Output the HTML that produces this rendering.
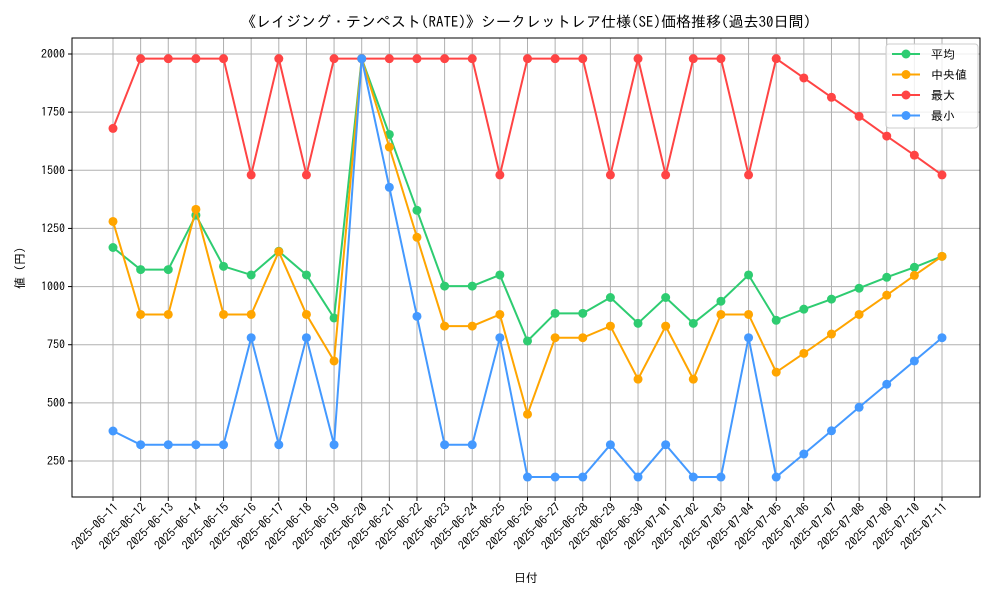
<!DOCTYPE html>
<html><head><meta charset="utf-8"><style>
body{margin:0;background:#fff;font-family:"IPAGothic","Noto Sans CJK JP",sans-serif}
svg text{font-family:"IPAGothic","Noto Sans CJK JP",sans-serif;fill:#000}
</style></head><body>
<svg id="chart" width="1000" height="600" xmlns="http://www.w3.org/2000/svg">
<rect width="1000" height="600" fill="#fff"/>
<text x="526" y="27" font-size="15" text-anchor="middle">《レイジング・テンペスト(RATE)》シークレットレア仕様(SE)価格推移(過去30日間)</text>
<g id="grid"></g><g id="axes"></g><g id="series"></g>
<rect x="72" y="38" width="908" height="459" fill="none" stroke="#000" stroke-width="1"/>
<text x="526" y="582" font-size="12" text-anchor="middle">日付</text>
<text x="24" y="268" font-size="12" text-anchor="middle" transform="rotate(-90 24 268)">値 (円)</text>
<g id="legend"></g>
</svg>
<script>
const categories=["2025-06-11","2025-06-12","2025-06-13","2025-06-14","2025-06-15","2025-06-16","2025-06-17","2025-06-18","2025-06-19","2025-06-20","2025-06-21","2025-06-22","2025-06-23","2025-06-24","2025-06-25","2025-06-26","2025-06-27","2025-06-28","2025-06-29","2025-06-30","2025-07-01","2025-07-02","2025-07-03","2025-07-04","2025-07-05","2025-07-06","2025-07-07","2025-07-08","2025-07-09","2025-07-10","2025-07-11"];
const meanVals=[1168,1073,1073,1307,1087,1050,1152,1050,865,1980,1654,1328,1002,1002,1050,766,885,885,953,842,953,842,937,1050,855,903,946,993,1040,1083,1130];
const medianVals=[1280,880,880,1332,880,880,1150,880,680,1980,1600,1212,830,830,880,451,780,780,830,602,830,602,880,880,632,713,796,880,963,1048,1130];
const maxVals=[1680,1980,1980,1980,1980,1480,1980,1480,1980,1980,1980,1980,1980,1980,1480,1980,1980,1980,1480,1980,1480,1980,1980,1480,1980,1897,1814,1732,1647,1565,1480];
const minVals=[379,320,320,320,320,780,320,780,320,1980,1427,872,320,320,780,181,181,181,320,181,320,181,181,780,181,280,380,481,580,680,780];
const yTicks=[250,500,750,1000,1250,1500,1750,2000];
const seriesNames=["平均","中央値","最大","最小"];
const NS="http://www.w3.org/2000/svg";
const x=i=>113+i*(942-113)/(categories.length-1);
const y=v=>461-(v-250)*(407/1750);
function mk(t,a,p){const e=document.createElementNS(NS,t);for(const k in a)e.setAttribute(k,a[k]);p.appendChild(e);return e;}
const grid=document.getElementById('grid'),axes=document.getElementById('axes'),ser=document.getElementById('series'),leg=document.getElementById('legend');
categories.forEach((c,i)=>{
 const g=mk('line',{x1:x(i),x2:x(i),y1:38,y2:497,stroke:'#b0b0b0','stroke-width':1},grid);
 
 
 mk('line',{x1:x(i),x2:x(i),y1:497,y2:501,stroke:'#000'},axes);
 const t=mk('text',{x:x(i)+6,y:508,'font-size':12,'text-anchor':'end',transform:`rotate(-45 ${x(i)+6} 508)`},axes);
 
 
 t.textContent=c;
});
yTicks.forEach(v=>{
 const g=mk('line',{x1:72,x2:980,y1:y(v),y2:y(v),stroke:'#b0b0b0','stroke-width':1},grid);
 
 
 mk('line',{x1:68,x2:72,y1:y(v),y2:y(v),stroke:'#000'},axes);
 const t=mk('text',{x:65,y:y(v)+4,'font-size':12,'text-anchor':'end'},axes);
 
 
 t.textContent=v;
});
const all=[[meanVals,'#2ecc71','mean'],[medianVals,'#ffa500','median'],[maxVals,'#ff4444','max'],[minVals,'#4499ff','min']];
all.forEach(([vals,col,nm],si)=>{
 const pl=mk('polyline',{points:vals.map((v,i)=>x(i)+','+y(v)).join(' '),fill:'none',stroke:col,'stroke-width':2},ser);
 
 
 vals.forEach((v,i)=>{
  const c=mk('circle',{cx:x(i),cy:y(v),r:4.5,fill:col},ser);
  
  
 });
 const ly=54+si*20.5;
 mk('line',{x1:892,x2:920,y1:ly,y2:ly,stroke:col,'stroke-width':2},leg);
 mk('circle',{cx:906,cy:ly,r:4.5,fill:col},leg);
 const t=mk('text',{x:931,y:ly+4.5,'font-size':12},leg);
 
 
 t.textContent=seriesNames[si];
});
mk('rect',{x:886,y:44,width:92,height:84,fill:'#fff','fill-opacity':0.8,stroke:'#ccc',rx:3},leg);
leg.insertBefore(leg.lastChild,leg.firstChild);
</script>
</body></html>
